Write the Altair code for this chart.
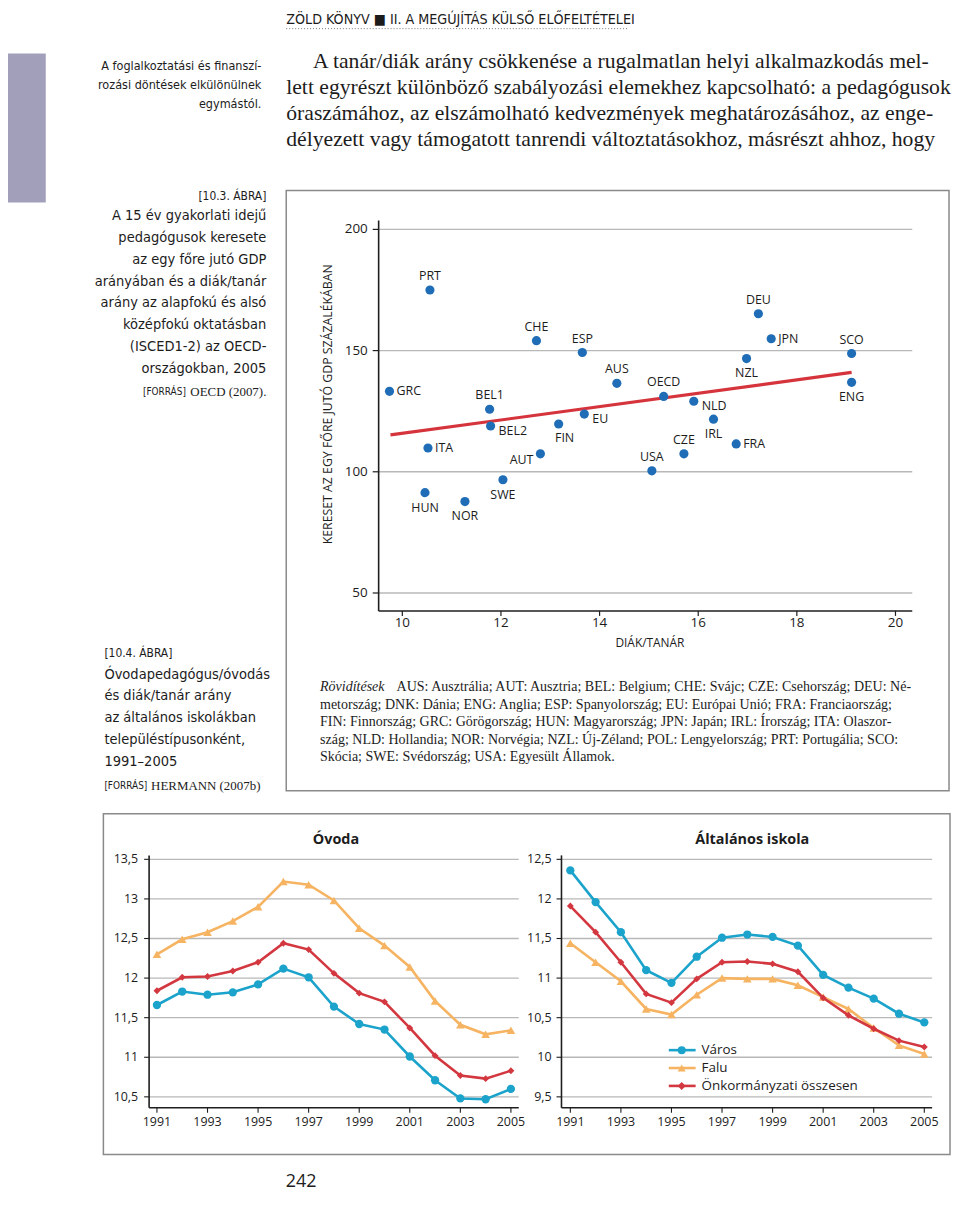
import altair as alt
import pandas as pd

# ---------------- data: scatter (10.3. ábra) ----------------
countries = ["GRC", "PRT", "ITA", "HUN", "NOR", "BEL1", "BEL2", "SWE", "AUT", "CHE",
             "FIN", "ESP", "EU", "AUS", "OECD", "USA", "CZE", "NLD", "IRL", "FRA",
             "NZL", "DEU", "JPN", "SCO", "ENG"]
student_teacher = [9.74, 10.56, 10.52, 10.46, 11.27, 11.77, 11.79, 12.04, 12.80, 12.72,
                   13.17, 13.65, 13.69, 14.35, 15.30, 15.06, 15.71, 15.91, 16.31, 16.77,
                   16.98, 17.22, 17.48, 19.11, 19.11]
salary_gdp = [133.2, 175.0, 109.8, 91.4, 87.7, 125.8, 118.9, 96.7, 107.4, 154.1,
              119.7, 149.2, 123.8, 136.5, 131.1, 100.4, 107.4, 129.1, 121.7, 111.5,
              146.7, 165.2, 154.9, 148.8, 136.9]
label_side = ["right", "above", "right", "below", "below", "above", "rightbelow", "below",
              "leftbelow", "above", "belowright", "above", "rightbelow", "above", "above",
              "above", "above", "rightbelow", "below", "right", "below", "above", "right",
              "above", "below"]
trend_x = [9.76, 19.11]
trend_y = [115.2, 141.0]
scatter_yticks = [50, 100, 150, 200]
scatter_xticks = [10, 12, 14, 16, 18, 20]

# ---------------- data: line charts (10.4. ábra) ----------------
years = list(range(1991, 2006))
series_names = ["Város", "Falu", "Önkormányzati összesen"]
ovoda_varos = [11.66, 11.83, 11.79, 11.82, 11.92, 12.12, 12.01, 11.64, 11.42, 11.35, 11.01, 10.71, 10.48, 10.47, 10.60]
ovoda_falu = [12.30, 12.49, 12.58, 12.72, 12.90, 13.22, 13.18, 12.98, 12.63, 12.41, 12.14, 11.71, 11.41, 11.29, 11.34]
ovoda_ossz = [11.84, 12.01, 12.02, 12.09, 12.20, 12.44, 12.36, 12.06, 11.81, 11.70, 11.37, 11.02, 10.77, 10.73, 10.83]
iskola_varos = [12.36, 11.96, 11.58, 11.10, 10.94, 11.27, 11.51, 11.55, 11.52, 11.41, 11.04, 10.88, 10.74, 10.55, 10.44]
iskola_falu = [11.44, 11.20, 10.96, 10.61, 10.54, 10.79, 11.00, 10.99, 10.99, 10.91, 10.76, 10.61, 10.37, 10.15, 10.04]
iskola_ossz = [11.91, 11.58, 11.20, 10.80, 10.69, 10.99, 11.20, 11.21, 11.18, 11.08, 10.75, 10.53, 10.36, 10.21, 10.13]
ovoda_yticks = [10.5, 11, 11.5, 12, 12.5, 13, 13.5]
ovoda_ylabels = ["10,5", "11", "11,5", "12", "12,5", "13", "13,5"]
iskola_yticks = [9.5, 10, 10.5, 11, 11.5, 12, 12.5]
iskola_ylabels = ["9,5", "10", "10,5", "11", "11,5", "12", "12,5"]
year_ticks = [1991, 1993, 1995, 1997, 1999, 2001, 2003, 2005]

# ---------------- styles ----------------
SANS = "Open Sans, Noto Sans, sans-serif"
NARROW = "DejaVu Sans Condensed, Liberation Sans Narrow, sans-serif"
SERIF = "Liberation Serif, DejaVu Serif, serif"
TXT = "#1c1c1c"
GRID = "#b8b8b8"
AXIS = "#1e1e1e"
BOX = "#8a8a8a"
BLUE = "#1f6db6"
RED = "#d6343c"
series_colors = ["#1ba3cb", "#f6b462", "#d3373f"]
series_shapes = ["circle", "triangle-up", "diamond"]
series_sizes = [70, 75, 48]

M = 8


def P(v):
    return v - M


one = pd.DataFrame({"k": [0]})


def text(s, x, y, size=13, font=SANS, align="left", baseline="middle",
         weight=None, style=None, color=TXT, angle=None):
    kw = dict(text=s, fontSize=size, font=font, align=align, baseline=baseline, color=color)
    if weight:
        kw["fontWeight"] = weight
    if style:
        kw["fontStyle"] = style
    if angle:
        kw["angle"] = angle
    return alt.Chart(one).mark_text(**kw).encode(x=alt.value(P(x)), y=alt.value(P(y)))


def hrule(x1, x2, y, color=AXIS, w=1.5, dash=None):
    kw = dict(color=color, strokeWidth=w)
    if dash:
        kw["strokeDash"] = dash
    return alt.Chart(one).mark_rule(**kw).encode(
        x=alt.value(P(x1)), x2=alt.value(P(x2)), y=alt.value(P(y)))


def vrule(x, y1, y2, color=AXIS, w=1.5):
    return alt.Chart(one).mark_rule(color=color, strokeWidth=w).encode(
        x=alt.value(P(x)), y=alt.value(P(y1)), y2=alt.value(P(y2)))


def box(x1, y1, x2, y2):
    return alt.Chart(one).mark_rect(fillOpacity=0, stroke=BOX, strokeWidth=1.5).encode(
        x=alt.value(P(x1)), x2=alt.value(P(x2)), y=alt.value(P(y1)), y2=alt.value(P(y2)))


page = []

# side bar and header
page.append(alt.Chart(one).mark_rect(color="#a19fba").encode(
    x=alt.value(0), x2=alt.value(P(46)), y=alt.value(P(50)), y2=alt.value(P(200))))
page.append(text("ZÖLD KÖNYV  ■  II. A MEGÚJÍTÁS KÜLSŐ ELŐFELTÉTELEI", 288, 16, size=14.3, font=NARROW))
page.append(hrule(288, 632, 25, color="#777777", w=1, dash=[1, 2]))

# side note
for i, s in enumerate(["A foglalkoztatási és finanszí-", "rozási döntések elkülönülnek", "egymástól."]):
    page.append(text(s, 263, 63 + 19 * i, size=12.6, font=NARROW, align="right"))

# body paragraph
body = [
    ("A tanár/diák arány csökkenése a rugalmatlan helyi alkalmazkodás mel-", 315),
    ("lett egyrészt különböző szabályozási elemekhez kapcsolható: a pedagógusok", 288),
    ("óraszámához, az elszámolható kedvezmények meghatározásához, az enge-", 288),
    ("délyezett vagy támogatott tanrendi változtatásokhoz, másrészt ahhoz, hogy", 288),
]
for i, (s, x0) in enumerate(body):
    page.append(text(s, x0, 58 + 26 * i, size=21.8, font=SERIF))

# figure 10.3 caption
page.append(text("[10.3. ÁBRA]", 268, 193, size=12, font=NARROW, align="right"))
cap1 = ["A 15 év gyakorlati idejű", "pedagógusok keresete", "az egy főre jutó GDP",
        "arányában és a diák/tanár", "arány az alapfokú és alsó", "középfokú oktatásban",
        "(ISCED1-2) az OECD-", "országokban, 2005"]
for i, s in enumerate(cap1):
    page.append(text(s, 268, 214 + 21.9 * i, size=14.6, font=NARROW, align="right"))
page.append(text("OECD (2007).", 268, 391, size=13, font=SERIF, align="right"))
page.append(text("[FORRÁS]", 187, 391, size=10, font=NARROW, align="right"))

# figure 10.4 caption
page.append(text("[10.4. ÁBRA]", 105, 653, size=12, font=NARROW))
cap2 = ["Óvodapedagógus/óvodás", "és diák/tanár arány", "az általános iskolákban",
        "településtípusonként,", "1991–2005"]
for i, s in enumerate(cap2):
    page.append(text(s, 105, 675 + 22 * i, size=14.6, font=NARROW))
page.append(text("[FORRÁS]", 105, 787, size=10, font=NARROW))
page.append(text("HERMANN (2007b)", 152, 787, size=13, font=SERIF))

# boxes
page.append(box(288, 188, 955, 792))
page.append(box(104, 815, 956, 1158))

# abbreviations
page.append(text("Rövidítések", 322, 688, size=14.1, font=SERIF, style="italic"))
abbr = [
    ("AUS: Ausztrália; AUT: Ausztria; BEL: Belgium; CHE: Svájc; CZE: Csehország; DEU: Né-", 399),
    ("metország; DNK: Dánia; ENG: Anglia; ESP: Spanyolország; EU: Európai Unió; FRA: Franciaország;", 322),
    ("FIN: Finnország; GRC: Görögország; HUN: Magyarország; JPN: Japán; IRL: Írország; ITA: Olaszor-", 322),
    ("szág; NLD: Hollandia; NOR: Norvégia; NZL: Új-Zéland; POL: Lengyelország; PRT: Portugália; SCO:", 322),
    ("Skócia; SWE: Svédország; USA: Egyesült Államok.", 322),
]
for i, (s, x0) in enumerate(abbr):
    page.append(text(s, x0, 688 + 17.6 * i, size=14.1, font=SERIF))

# page number
page.append(text("242", 303, 1191, size=18, font=SANS, align="center", baseline="alphabetic"))

# ---------------- scatter group ----------------
sdf = pd.DataFrame({"c": countries, "x": student_teacher, "y": salary_gdp, "pos": label_side})
tdf = pd.DataFrame({"x": trend_x, "y": trend_y})
sydf = pd.DataFrame({"v": scatter_yticks, "lab": [str(v) for v in scatter_yticks]})
sxdf = pd.DataFrame({"v": scatter_xticks, "lab": [str(v) for v in scatter_xticks]})
sx = alt.Scale(domain=[9.52, 20.34], range=[P(381), P(918)], nice=False, zero=False)
sy = alt.Scale(domain=[42.6, 203.7], range=[P(611), P(218)], nice=False, zero=False)


def SX(f):
    return alt.X(f, type="quantitative", scale=sx, axis=None)


def SY(f):
    return alt.Y(f, type="quantitative", scale=sy, axis=None)


sc = []
sc.append(alt.Chart(sydf).mark_rule(color=GRID, strokeWidth=1.4).encode(
    y=SY("v"), x=alt.value(P(381)), x2=alt.value(P(918))))
sc.append(alt.Chart(sydf).mark_rule(color=AXIS, strokeWidth=1.2).encode(
    y=SY("v"), x=alt.value(P(375)), x2=alt.value(P(381))))
sc.append(alt.Chart(sydf).mark_text(align="right", baseline="middle", fontSize=13.5, font=SANS, color=TXT).encode(
    y=SY("v"), x=alt.value(P(370)), text="lab:N"))
sc.append(alt.Chart(sxdf).mark_rule(color=AXIS, strokeWidth=1.2).encode(
    x=SX("v"), y=alt.value(P(611)), y2=alt.value(P(616))))
sc.append(alt.Chart(sxdf).mark_text(align="center", baseline="middle", fontSize=13.5, font=SANS, color=TXT).encode(
    x=SX("v"), y=alt.value(P(623)), text="lab:N"))
sc.append(vrule(381, 218, 611, w=1.6))
sc.append(hrule(381, 918, 611, w=1.6))
sc.append(alt.Chart(tdf).mark_line(color=RED, strokeWidth=3.2).encode(x=SX("x"), y=SY("y")))
sc.append(alt.Chart(sdf).mark_circle(size=85, color=BLUE, opacity=1).encode(x=SX("x"), y=SY("y")))
offsets = {
    "above": (0, -14, "center"),
    "below": (0, 15, "center"),
    "right": (7, 0, "left"),
    "rightbelow": (8, 5, "left"),
    "leftbelow": (-7, 6, "right"),
    "belowright": (6, 14, "center"),
}
for pos, (dx, dy, al) in offsets.items():
    sc.append(alt.Chart(sdf).transform_filter(alt.datum.pos == pos).mark_text(
        dx=dx, dy=dy, align=al, baseline="middle", fontSize=12.5, font=SANS, color=TXT).encode(
        x=SX("x"), y=SY("y"), text="c:N"))
sc.append(text("DIÁK/TANÁR", 654, 643, size=12, font=SANS, align="center"))
sc.append(text("KERESET AZ EGY FŐRE JUTÓ GDP SZÁZALÉKÁBAN", 330, 403, size=12.4, font=SANS,
               align="center", angle=270))
scatter_group = alt.layer(*sc)


# ---------------- line chart groups ----------------
def line_group(values, yticks, ylabels, xaxis_px, xend_px, xdomain, ydomain, lab_right, title, title_x):
    df = pd.DataFrame({
        "year": years * 3,
        "value": values[0] + values[1] + values[2],
        "series": [series_names[0]] * 15 + [series_names[1]] * 15 + [series_names[2]] * 15,
    })
    ydf = pd.DataFrame({"v": yticks, "lab": ylabels})
    xdf = pd.DataFrame({"v": year_ticks, "lab": [str(v) for v in year_ticks]})
    xs = alt.Scale(domain=xdomain, range=[P(xaxis_px), P(xend_px)], nice=False, zero=False)
    ys = alt.Scale(domain=ydomain, range=[P(1111), P(857)], nice=False, zero=False)
    X_ = lambda f: alt.X(f, type="quantitative", scale=xs, axis=None)
    Y_ = lambda f: alt.Y(f, type="quantitative", scale=ys, axis=None)
    L = []
    L.append(alt.Chart(ydf).mark_rule(color=GRID, strokeWidth=1.4).encode(
        y=Y_("v"), x=alt.value(P(xaxis_px)), x2=alt.value(P(xend_px))))
    L.append(alt.Chart(ydf).mark_rule(color=AXIS, strokeWidth=1.1).encode(
        y=Y_("v"), x=alt.value(P(xaxis_px - 5)), x2=alt.value(P(xaxis_px))))
    L.append(alt.Chart(ydf).mark_text(align="right", baseline="middle", fontSize=12.5, font=SANS, color=TXT).encode(
        y=Y_("v"), x=alt.value(P(lab_right)), text="lab:N"))
    L.append(alt.Chart(xdf).mark_rule(color=AXIS, strokeWidth=1.1).encode(
        x=X_("v"), y=alt.value(P(1111)), y2=alt.value(P(1116))))
    L.append(alt.Chart(xdf).mark_text(align="center", baseline="middle", fontSize=12.5, font=SANS, color=TXT).encode(
        x=X_("v"), y=alt.value(P(1125)), text="lab:N"))
    L.append(vrule(xaxis_px, 857, 1111, w=1.6))
    L.append(hrule(xaxis_px, xend_px, 1111, w=1.6))
    for s, col, shp, sz in zip(series_names, series_colors, series_shapes, series_sizes):
        L.append(alt.Chart(df).transform_filter(alt.datum.series == s).mark_line(
            color=col, strokeWidth=2.6).encode(x=X_("year"), y=Y_("value")))
        L.append(alt.Chart(df).transform_filter(alt.datum.series == s).mark_point(
            shape=shp, size=sz, filled=True, color=col, opacity=1).encode(x=X_("year"), y=Y_("value")))
    L.append(text(title, title_x, 842, size=14.5, font=SANS, align="center", weight="bold"))
    return alt.layer(*L)


ovoda_group = line_group([ovoda_varos, ovoda_falu, ovoda_ossz], ovoda_yticks, ovoda_ylabels,
                         150, 522, [1990.69, 2005.31], [10.362, 13.55], 139, "Óvoda", 338)
iskola_group = line_group([iskola_varos, iskola_falu, iskola_ossz], iskola_yticks, iskola_ylabels,
                          565, 938, [1990.65, 2005.31], [9.362, 12.55], 555, "Általános iskola", 757)

# ---------------- legend group ----------------
ldf = pd.DataFrame({"series": series_names})
ly = alt.Y("series:N", scale=alt.Scale(type="point", domain=series_names,
                                       range=[P(1053), P(1089)], padding=0), axis=None)
lc = alt.Color("series:N", scale=alt.Scale(domain=series_names, range=series_colors), legend=None)
lsh = alt.Shape("series:N", scale=alt.Scale(domain=series_names, range=series_shapes), legend=None)
legend_group = alt.layer(
    alt.Chart(ldf).mark_rule(strokeWidth=2.6).encode(
        y=ly, x=alt.value(P(673)), x2=alt.value(P(700)), color=lc),
    alt.Chart(ldf).mark_point(filled=True, size=65, opacity=1).encode(
        y=ly, x=alt.value(P(686)), color=lc, shape=lsh),
    alt.Chart(ldf).mark_text(align="left", baseline="middle", fontSize=13.5, font=SANS, color=TXT).encode(
        y=ly, x=alt.value(P(706)), text="series:N"),
)

chart = alt.layer(*page, scatter_group, ovoda_group, iskola_group, legend_group).resolve_scale(
    x="independent", y="independent", color="independent", shape="independent"
).properties(
    width=950, height=1184, padding=0, autosize=alt.AutoSizeParams(type="none")
).configure_view(stroke=None)

chart.save("out.html", embed_options={"renderer": "svg", "actions": False})
